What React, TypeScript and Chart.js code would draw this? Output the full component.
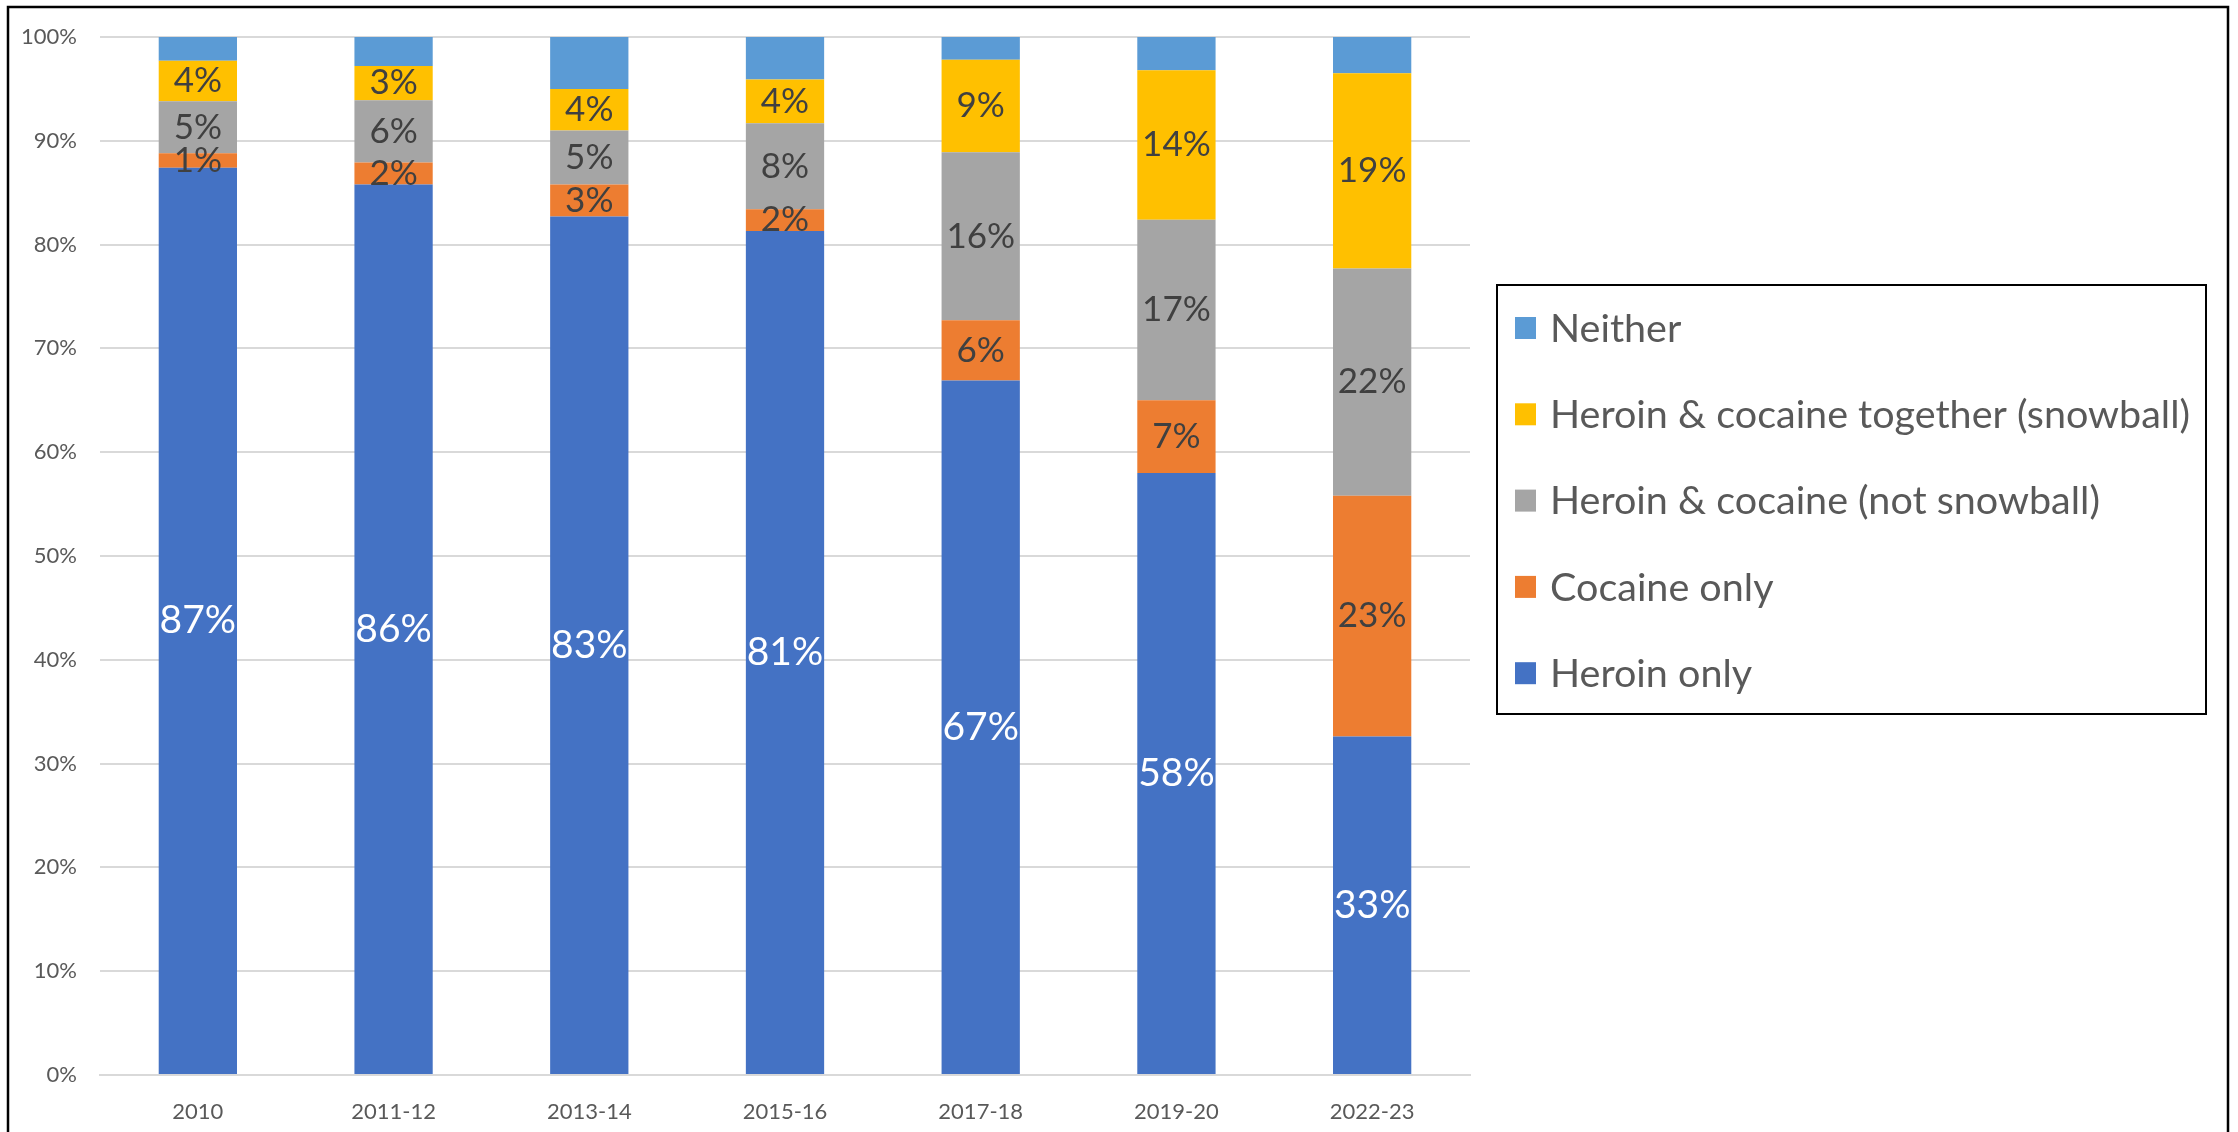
import { useEffect, useRef } from 'react';
import { Chart, registerables } from 'chart.js';

Chart.register(...registerables);

const categories = ['2010', '2011-12', '2013-14', '2015-16', '2017-18', '2019-20', '2022-23'];
const heroinOnly = [87.4, 85.8, 82.7, 81.3, 66.9, 58.0, 32.6];
const cocaineOnly = [1.4, 2.1, 3.1, 2.1, 5.8, 7.0, 23.2];
const notSnowball = [5.0, 6.0, 5.2, 8.3, 16.2, 17.4, 21.9];
const snowball = [3.9, 3.3, 4.0, 4.2, 8.9, 14.4, 18.8];
const neither = [2.3, 2.8, 5.0, 4.1, 2.2, 3.2, 3.5];
const yTicks = [0, 10, 20, 30, 40, 50, 60, 70, 80, 90, 100];

const seriesNames = [
  'Heroin only',
  'Cocaine only',
  'Heroin & cocaine (not snowball)',
  'Heroin & cocaine together (snowball)',
  'Neither',
];
const seriesColors = ['#4472C4', '#ED7D31', '#A5A5A5', '#FFC000', '#5B9BD5'];
const seriesValues = [heroinOnly, cocaineOnly, notSnowball, snowball, neither];
const labelColors = ['#FFFFFF', '#404040', '#404040', '#404040', null];

const FONT = 'Lato';
const W = 2238;
const H = 1132;

const frameAndLegend = {
  id: 'frameAndLegend',
  afterDraw(chart: any) {
    const ctx = chart.ctx;
    ctx.save();
    // outer frame
    ctx.strokeStyle = '#000000';
    ctx.lineWidth = 2.5;
    ctx.beginPath();
    ctx.moveTo(8, H + 5);
    ctx.lineTo(8, 7);
    ctx.lineTo(2228, 7);
    ctx.lineTo(2228, H + 5);
    ctx.stroke();
    // legend box
    ctx.lineWidth = 2;
    ctx.strokeRect(1497, 285, 709, 429);
    const ds = chart.data.datasets;
    const order = [4, 3, 2, 1, 0];
    ctx.font = `39.5px ${FONT}`;
    ctx.textBaseline = 'middle';
    ctx.textAlign = 'left';
    order.forEach((di, i) => {
      const cy = 328 + i * 86.3;
      ctx.fillStyle = ds[di].backgroundColor;
      ctx.fillRect(1515, cy - 11, 21, 22);
      ctx.fillStyle = '#595959';
      ctx.fillText(ds[di].label, 1550, cy + 1);
    });
    ctx.restore();
  },
};

const barLabels = {
  id: 'barLabels',
  afterDatasetsDraw(chart: any) {
    const ctx = chart.ctx;
    ctx.save();
    ctx.textAlign = 'center';
    ctx.textBaseline = 'middle';
    chart.data.datasets.forEach((d: any, di: number) => {
      const color = labelColors[di];
      if (!color) return;
      const meta = chart.getDatasetMeta(di);
      meta.data.forEach((el: any, i: number) => {
        const v = d.data[i];
        const cy = (el.y + el.base) / 2;
        ctx.fillStyle = color;
        ctx.font = di === 0 ? `39px ${FONT}` : `35px ${FONT}`;
        ctx.fillText(Math.round(v) + '%', el.x, cy);
      });
    });
    ctx.restore();
  },
};

export default function App() {
  const ref = useRef<HTMLCanvasElement>(null);
  useEffect(() => {
    if (!ref.current) return;
    const chart = new Chart(ref.current, {
      type: 'bar',
      data: {
        labels: categories,
        datasets: seriesNames.map((name, i) => ({
          label: name,
          data: seriesValues[i],
          backgroundColor: seriesColors[i],
          borderWidth: 0,
          barPercentage: 0.4,
          categoryPercentage: 1,
        })),
      },
      options: {
        responsive: false,
        animation: false,
        devicePixelRatio: 1,
        layout: { padding: { left: 0, top: 37, right: W - 1470, bottom: 0 } },
        plugins: {
          legend: { display: false },
          tooltip: { enabled: false },
          title: { display: false },
        },
        scales: {
          x: {
            stacked: true,
            grid: { display: false },
            border: { display: true, color: '#D9D9D9', width: 2 },
            ticks: {
              color: '#595959',
              font: { family: FONT, size: 22 },
              padding: 16,
              maxRotation: 0,
            },
            afterFit: (s: any) => {
              s.height = H - 1075;
            },
          },
          y: {
            stacked: true,
            min: 0,
            max: 100,
            afterBuildTicks: (s: any) => {
              s.ticks = yTicks.map((v) => ({ value: v }));
            },
            grid: { color: '#D9D9D9', lineWidth: 2, drawTicks: false },
            border: { display: false },
            ticks: {
              color: '#595959',
              font: { family: FONT, size: 22 },
              padding: 23,
              callback: (v: any) => v + '%',
            },
            afterFit: (s: any) => {
              s.width = 100;
            },
          },
        },
      },
      plugins: [barLabels, frameAndLegend],
    });
    return () => chart.destroy();
  }, []);
  return (
    <div style={{ position: 'fixed', left: 0, top: 0, width: W, height: H, background: '#fff' }}>
      <canvas ref={ref} width={W} height={H} style={{ width: W, height: H, display: 'block' }} />
    </div>
  );
}
